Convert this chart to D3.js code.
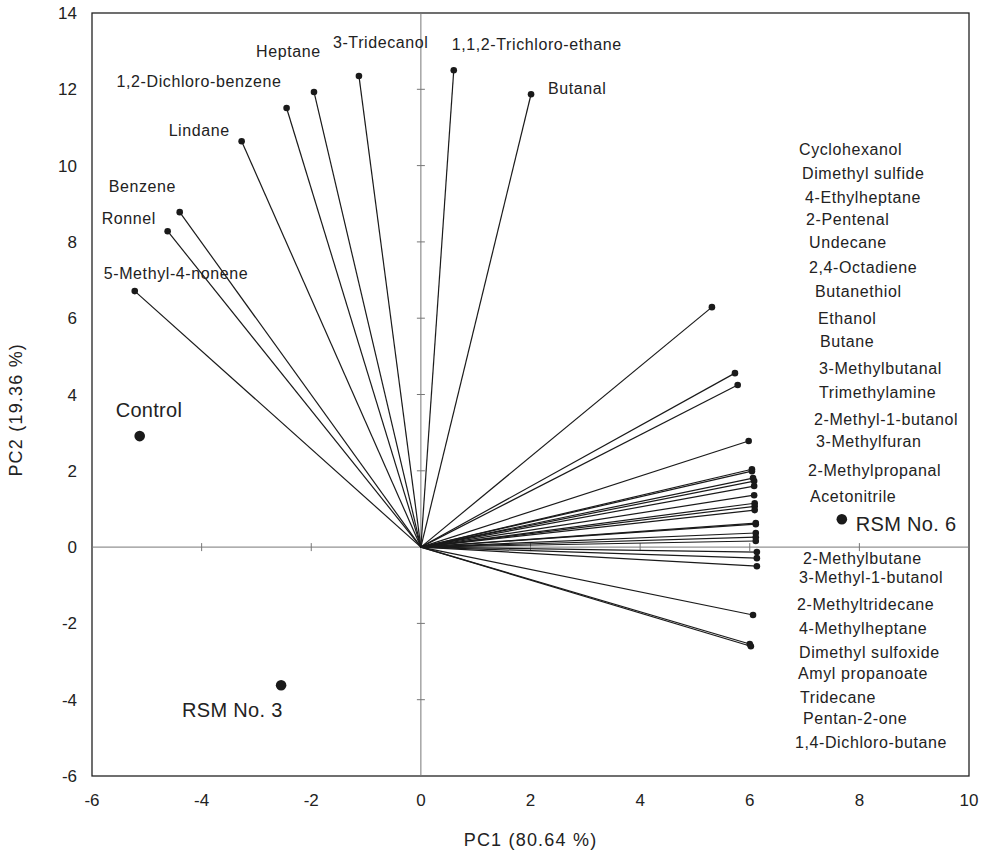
<!DOCTYPE html>
<html>
<head>
<meta charset="utf-8">
<script src="https://cdn.jsdelivr.net/npm/d3@7"></script>
<style>
  body { margin: 0; background: #fff; }
  text { font-family: Arial, "Liberation Sans", sans-serif; fill: #222; }
</style>
</head>
<body>
<div id="biplot"></div>
<script>
// axis ticks
var xTicks = [-6, -4, -2, 0, 2, 4, 6, 8, 10];
var yTicks = [-6, -4, -2, 0, 2, 4, 6, 8, 10, 12, 14];

// loadings, labelled individually (upper left group)
var leftNames = ["5-Methyl-4-nonene", "Ronnel", "Benzene", "Lindane", "1,2-Dichloro-benzene",
                 "Heptane", "3-Tridecanol", "1,1,2-Trichloro-ethane", "Butanal"];
var leftPC1 = [-5.22, -4.62, -4.40, -3.27, -2.45, -1.95, -1.13, 0.60, 2.01];
var leftPC2 = [6.71, 8.28, 8.78, 10.64, 11.51, 11.93, 12.35, 12.50, 11.87];

// loadings of the right-hand cluster (labelled as a list)
var rightPC1 = [5.31, 5.73, 5.78, 5.98, 6.04, 6.04, 6.06, 6.08, 6.08, 6.08, 6.09, 6.09,
                6.09, 6.11, 6.11, 6.11, 6.11, 6.11, 6.13, 6.13, 6.13, 6.06, 6.00, 6.02];
var rightPC2 = [6.29, 4.56, 4.25, 2.78, 2.04, 1.99, 1.81, 1.73, 1.60, 1.36, 1.15, 1.07,
                0.97, 0.63, 0.60, 0.37, 0.26, 0.16, -0.13, -0.29, -0.50, -1.78, -2.54, -2.60];
var rightNames = ["Cyclohexanol", "Dimethyl sulfide", "4-Ethylheptane", "2-Pentenal", "Undecane",
                  "2,4-Octadiene", "Butanethiol", "Ethanol", "Butane", "3-Methylbutanal",
                  "Trimethylamine", "2-Methyl-1-butanol", "3-Methylfuran", "2-Methylpropanal",
                  "Acetonitrile", "2-Methylbutane", "3-Methyl-1-butanol", "2-Methyltridecane",
                  "4-Methylheptane", "Dimethyl sulfoxide", "Amyl propanoate", "Tridecane",
                  "Pentan-2-one", "1,4-Dichloro-butane"];

// sample scores
var scoreNames = ["Control", "RSM No. 3", "RSM No. 6"];
var scorePC1 = [-5.13, -2.55, 7.68];
var scorePC2 = [2.91, -3.62, 0.73];

// label placement (pixels)
var leftLabelOffset = [[-31, -12], [-66, -7], [-71, -20], [-73, -5], [-170, -21],
                       [-58, -35], [-26, -28], [-2, -20], [17, 0]];
var rightLabelX = [799, 802, 805, 806, 809, 809, 815, 818, 820, 819, 819, 814, 816, 808, 810,
                   803, 799, 797, 799, 799, 798, 800, 803, 795];
var rightLabelY = [155, 179, 203, 225, 248, 273, 297, 324, 347, 374, 398, 425, 447, 476, 502,
                   564, 583, 610, 634, 658, 679, 703, 724, 748];
var scoreLabelOffset = [[-24, -19], [-99, 32], [14, 12]];

var W = 984, H = 858;
var x = d3.scaleLinear().domain([-6, 10]).range([92, 969]);
var y = d3.scaleLinear().domain([-6, 14]).range([776, 13]);

var svg = d3.select("#biplot").append("svg")
  .attr("width", W).attr("height", H);

// frame
svg.append("rect")
  .attr("x", x(-6)).attr("y", y(14))
  .attr("width", x(10) - x(-6)).attr("height", y(-6) - y(14))
  .attr("fill", "none").attr("stroke", "#222").attr("stroke-width", 1.3);

// zero lines with cross ticks
var zero = svg.append("g").attr("stroke", "#777").attr("stroke-width", 1);
zero.append("line").attr("x1", x(-6)).attr("x2", x(10)).attr("y1", y(0)).attr("y2", y(0));
zero.append("line").attr("x1", x(0)).attr("x2", x(0)).attr("y1", y(14)).attr("y2", y(-6));
zero.selectAll(".yt").data(yTicks.filter(function(d) { return d != 0 && d != 14 && d != -6; }))
  .enter().append("line")
    .attr("x1", x(0) - 4).attr("x2", x(0) + 4)
    .attr("y1", function(d) { return y(d); }).attr("y2", function(d) { return y(d); });
zero.selectAll(".xt").data(xTicks.filter(function(d) { return d != 0 && d != -6 && d != 10; }))
  .enter().append("line")
    .attr("y1", y(0) - 4).attr("y2", y(0) + 4)
    .attr("x1", function(d) { return x(d); }).attr("x2", function(d) { return x(d); });

// tick labels
svg.selectAll(".xl").data(xTicks).enter().append("text")
  .attr("x", function(d) { return x(d); })
  .attr("y", y(-6) + 30)
  .attr("text-anchor", "middle")
  .attr("font-size", 17)
  .text(function(d) { return d; });
svg.selectAll(".yl").data(yTicks).enter().append("text")
  .attr("x", x(-6) - 15)
  .attr("y", function(d) { return y(d) + 6; })
  .attr("text-anchor", "end")
  .attr("font-size", 17)
  .text(function(d) { return d; });

// axis titles
svg.append("text")
  .attr("x", (x(-6) + x(10)) / 2).attr("y", 846)
  .attr("text-anchor", "middle").attr("font-size", 18)
  .attr("letter-spacing", 1.2)
  .text("PC1 (80.64 %)");
svg.append("text")
  .attr("transform", "translate(22," + (y(3.6)) + ") rotate(-90)")
  .attr("text-anchor", "middle").attr("font-size", 18)
  .attr("letter-spacing", 1.2)
  .text("PC2 (19.36 %)");

// vectors
var vecs = [];
leftPC1.forEach(function(v, i) { vecs.push({pc1: v, pc2: leftPC2[i]}); });
rightPC1.forEach(function(v, i) { vecs.push({pc1: v, pc2: rightPC2[i]}); });

svg.selectAll(".vec").data(vecs).enter().append("line")
  .attr("x1", x(0)).attr("y1", y(0))
  .attr("x2", function(d) { return x(d.pc1); })
  .attr("y2", function(d) { return y(d.pc2); })
  .attr("stroke", "#1a1a1a").attr("stroke-width", 1.2);
svg.selectAll(".tip").data(vecs).enter().append("circle")
  .attr("cx", function(d) { return x(d.pc1); })
  .attr("cy", function(d) { return y(d.pc2); })
  .attr("r", 3.3).attr("fill", "#1a1a1a");

// labels
var lab = svg.append("g").attr("font-size", 16).attr("letter-spacing", 0.6);
leftNames.forEach(function(n, i) {
  lab.append("text")
    .attr("x", x(leftPC1[i]) + leftLabelOffset[i][0])
    .attr("y", y(leftPC2[i]) + leftLabelOffset[i][1])
    .text(n);
});
rightNames.forEach(function(n, i) {
  lab.append("text")
    .attr("x", rightLabelX[i]).attr("y", rightLabelY[i])
    .text(n);
});

// scores
scoreNames.forEach(function(n, i) {
  svg.append("circle")
    .attr("cx", x(scorePC1[i])).attr("cy", y(scorePC2[i]))
    .attr("r", 5.3).attr("fill", "#1a1a1a");
  svg.append("text")
    .attr("x", x(scorePC1[i]) + scoreLabelOffset[i][0])
    .attr("y", y(scorePC2[i]) + scoreLabelOffset[i][1])
    .attr("font-size", 20).attr("letter-spacing", 0.3)
    .text(n);
});
</script>
</body>
</html>
